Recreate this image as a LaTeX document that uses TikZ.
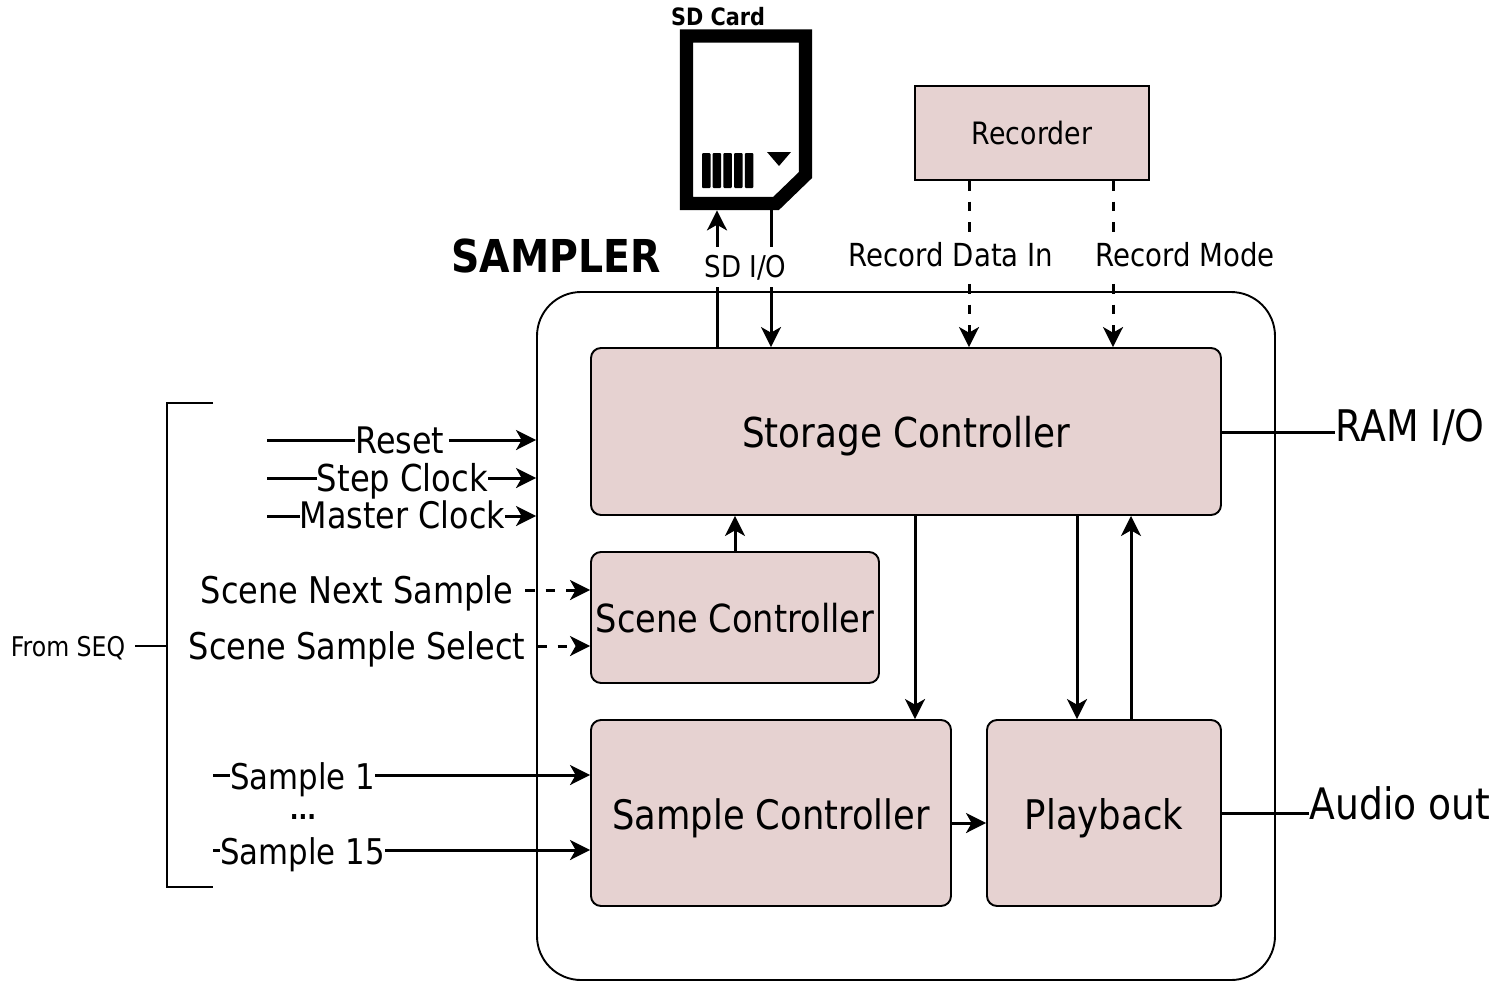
\documentclass[tikz,border=0pt]{standalone}
\usepackage{graphicx}
\usepackage{fontspec}
\setmainfont{DejaVu Sans}
\usetikzlibrary{arrows.meta,calc}
\definecolor{boxfill}{HTML}{E6D2D1}
\newcommand{\fs}[2]{\fontsize{#1}{#1}\selectfont\scalebox{1}[1.15]{#2}}
\tikzset{
  block/.style={draw=black,line width=0.95pt,fill=boxfill,rounded corners=5pt,inner sep=0pt,align=center,text depth=0pt},
  lbl/.style={inner sep=0pt,anchor=base},
  masklbl/.style={lbl,fill=white,text depth=4.5pt},
  wire/.style={line width=1.5pt,draw=black},
  flow/.style={wire,-{Stealth[length=10pt,width=10pt,inset=2.8pt]}},
  dashflow/.style={flow,dash pattern=on 4.8pt off 5.5pt},
  thin line/.style={line width=0.95pt,draw=black}
}
\begin{document}
\begin{tikzpicture}[x=0.5pt,y=-0.5pt]
\useasboundingbox (0,0) rectangle (1495,981);
% sampler frame
\node[draw=black,line width=0.95pt,rounded corners=22pt,minimum width=369pt,minimum height=344pt,inner sep=0pt] (sampler) at (906,636) {};
% blocks
\node[block,text height=16pt,minimum width=315pt,minimum height=83.5pt] (storage) at (906,431.5) {\fs{17.9}{Storage Controller}};
\node[block,text height=14.5pt,minimum width=144pt,minimum height=65.5pt] (scene) at (735,617.5) {\fs{16.8}{Scene Controller}};
\node[block,text height=16.5pt,minimum width=180pt,minimum height=93pt] (sample) at (771,813) {\fs{17.65}{Sample Controller}};
\node[block,text height=16.5pt,minimum width=117pt,minimum height=93pt] (playback) at (1104,813) {\fs{17.75}{Playback}};
\node[block,text height=11pt,rounded corners=0pt,minimum width=117pt,minimum height=47pt] (recorder) at (1032,133) {\fs{13.4}{Recorder}};
% SD card
\node[inner sep=0pt,minimum width=66pt,minimum height=90.5pt] (card) at (746,119.5) {};
\draw[line width=6.7pt,line join=miter] (686.5,36) -- (805.5,36) -- (805.5,175) -- (776,203.5) -- (686.5,203.5) -- cycle;
\foreach \i in {0,...,4}
  \fill[rounded corners=0.5pt] ({702+\i*10.7},153) rectangle ({710.5+\i*10.7},188);
\fill (767,152) -- (791,152) -- (779,166) -- cycle;
\node[lbl] (cardlabel) at (718,25) {\fs{10.4}{\bfseries SD Card}};
\node[lbl] (title) at (556,272) {\fs{19.7}{\bfseries SAMPLER}};
% free ends
\coordinate (resetsrc) at (267,440);
\coordinate (stepsrc) at (267,478);
\coordinate (mastersrc) at (267,516);
\coordinate (nextsrc) at (525,590);
\coordinate (selsrc) at (537,646);
\coordinate (s1src) at (213,775);
\coordinate (s15src) at (213,850);
% top connectors
\draw[flow] (717,0 |- storage.north) -- (717,0 |- card.south);
\draw[flow] (771,0 |- card.south) -- (771,0 |- storage.north);
\draw[dashflow] (969,0 |- recorder.south) -- (969,0 |- storage.north);
\draw[dashflow] (1113,0 |- recorder.south) -- (1113,0 |- storage.north);
\node[masklbl,text height=15pt,text depth=5pt] (sdio) at (745.5,277) {\fs{13.05}{SD I/O}};
\node[masklbl,text height=14.5pt] (recin) at (951,266) {\fs{13.8}{Record Data In}};
\node[masklbl,text height=14.5pt] (recmode) at (1185,266) {\fs{13.8}{Record Mode}};
% internal connectors
\draw[flow] (scene.north) -- (storage.south -| scene.north);
\draw[flow] (915,0 |- storage.south) -- (915,0 |- sample.north);
\draw[flow] (1077,0 |- storage.south) -- (1077,0 |- playback.north);
\draw[flow] (1131,0 |- playback.north) -- (1131,0 |- storage.south);
\draw[flow] (sample.east |- 0,823) -- (playback.west |- 0,823);
% left labels
\node[lbl] (reset) at (400,453) {\fs{15.9}{Reset}};
\node[lbl] (step) at (402.5,491) {\fs{16.1}{Step Clock}};
\node[lbl] (master) at (402.5,528) {\fs{15.9}{Master Clock}};
\node[lbl] (next) at (357,603) {\fs{16}{Scene Next Sample}};
\node[lbl] (sel) at (357,659) {\fs{16}{Scene Sample Select}};
\node[lbl] (s1) at (302.5,789) {\fs{15.4}{Sample 1}};
\node[lbl] (dots) at (303,819) {\fs{11.5}{\bfseries ...}};
\node[lbl] (s15) at (302.5,864) {\fs{15.4}{Sample 15}};
\draw[wire] (resetsrc) -- (resetsrc -| reset.west);
\draw[flow] ($(resetsrc -| reset.east)+(4,0)$) -- (resetsrc -| sampler.west);
\draw[wire] (stepsrc) -- (stepsrc -| step.west);
\draw[flow] (stepsrc -| step.east) -- (stepsrc -| sampler.west);
\draw[wire] (mastersrc) -- (mastersrc -| master.west);
\draw[flow] (mastersrc -| master.east) -- (mastersrc -| sampler.west);
\draw[dashflow] (nextsrc) -- (nextsrc -| scene.west);
\draw[dashflow] (selsrc) -- (selsrc -| scene.west);
\draw[wire] (s1src) -- (s1src -| s1.west);
\draw[flow] (s1src -| s1.east) -- (s1src -| sample.west);
\draw[wire] (s15src) -- (s15src -| s15.west);
\draw[flow] (s15src -| s15.east) -- (s15src -| sample.west);
% bracket
\coordinate (brtop) at (213,403);
\coordinate (brbot) at (213,887);
\draw[thin line] (brtop) -- (167,403) -- (167,887) -- (brbot);
\node[lbl] (fromseq) at (68,656) {\fs{11.8}{From SEQ}};
\coordinate (brmid) at (167,646);
\draw[thin line] (brmid) -- (135,646);
% right
\node[lbl] (ram) at (1410,441) {\fs{18.95}{RAM I/O}};
\node[lbl] (audio) at (1400,819) {\fs{18.85}{Audio out}};
\draw[wire] (storage.east |- 0,432) -- (ram.west |- 0,432);
\draw[wire] (playback.east |- 0,813) -- (audio.west |- 0,813);
\end{tikzpicture}
\end{document}
